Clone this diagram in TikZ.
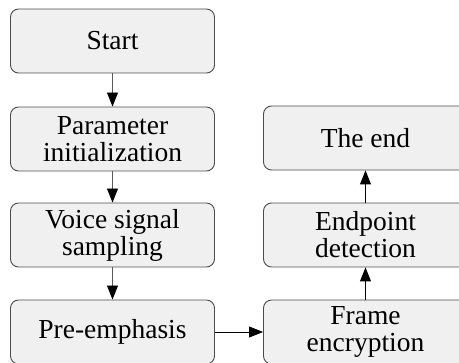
\documentclass[tikz,border=0pt]{standalone}
\usepackage{fontspec}
\setmainfont{Liberation Serif}
\usetikzlibrary{arrows.meta}
\begin{document}
\begin{tikzpicture}[x=1pt,y=-1pt,
  stepbox/.style={draw=black!70, line width=0.9pt, fill=black!6, rounded corners=8pt,
    minimum width=204pt, minimum height=64pt, inner sep=0pt, align=center,
    font=\fontsize{27.5}{27}\selectfont},
  flow/.style={line width=0.9pt, -{Triangle[length=14pt,width=11pt,color=black]}}]
\useasboundingbox (0,0) rectangle (459,363);
\clip (0,0) rectangle (459,363);
\node[stepbox] (start) at (112.5,41) {Start};
\node[stepbox] (param) at (112.5,139) {Parameter\\initialization};
\node[stepbox] (voice) at (112.5,235) {Voice signal\\sampling};
\node[stepbox] (pre) at (112.5,332) {Pre-emphasis};
\node[stepbox] (frame) at (365.5,332) {Frame\\encryption};
\node[stepbox] (endp) at (365.5,235) {Endpoint\\detection};
\node[stepbox] (fin) at (365.5,138) {The end};
\draw[flow, draw=black!65] (start) -- (param);
\draw[flow, draw=black!65] (param) -- (voice);
\draw[flow, draw=black!65] (voice) -- (pre);
\draw[flow] (pre) -- (frame);
\draw[flow] (frame) -- (endp);
\draw[flow] (endp) -- (fin);
\end{tikzpicture}
\end{document}
